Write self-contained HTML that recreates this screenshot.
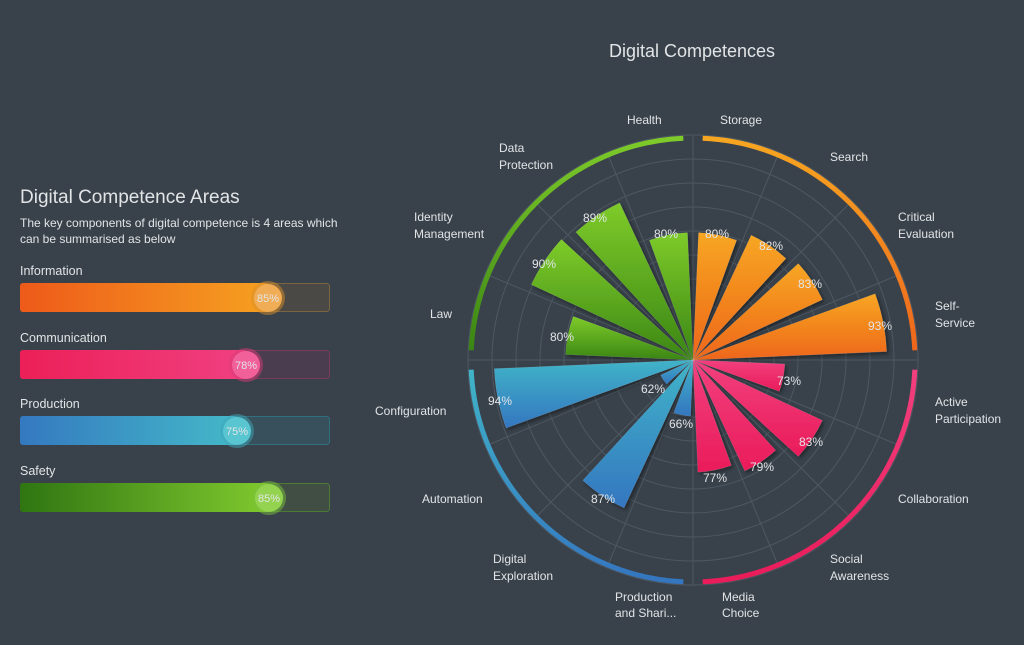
<!DOCTYPE html>
<html><head><meta charset="utf-8"><style>
html,body{margin:0;padding:0;background:#39424b;width:1024px;height:645px;overflow:hidden}
svg{display:block}
text{font-family:"Liberation Sans",sans-serif;fill:#e2e4e6}
</style></head><body>
<svg id="s" width="1024" height="645" viewBox="0 0 1024 645" xmlns="http://www.w3.org/2000/svg">
<defs>
<linearGradient id="go" x1="0" y1="0" x2="0" y2="1"><stop offset="0" stop-color="#f7a621"/><stop offset="1" stop-color="#ee661c"/></linearGradient>
<linearGradient id="gp" x1="0" y1="0" x2="0" y2="1"><stop offset="0" stop-color="#f2407f"/><stop offset="1" stop-color="#ea1c5a"/></linearGradient>
<linearGradient id="gb" x1="0" y1="0" x2="0" y2="1"><stop offset="0" stop-color="#40b4c8"/><stop offset="1" stop-color="#3476c0"/></linearGradient>
<linearGradient id="gg" x1="0" y1="0" x2="0" y2="1"><stop offset="0" stop-color="#7ecb2a"/><stop offset="1" stop-color="#3a8514"/></linearGradient>
<linearGradient id="ho" x1="0" x2="1"><stop offset="0" stop-color="#ee5a1a"/><stop offset="1" stop-color="#f5a020"/></linearGradient>
<linearGradient id="hp" x1="0" x2="1"><stop offset="0" stop-color="#ec1f58"/><stop offset="1" stop-color="#f04080"/></linearGradient>
<linearGradient id="hb" x1="0" x2="1"><stop offset="0" stop-color="#3479c0"/><stop offset="1" stop-color="#44b8c8"/></linearGradient>
<linearGradient id="hg" x1="0" x2="1"><stop offset="0" stop-color="#2f7512"/><stop offset="1" stop-color="#80c92e"/></linearGradient>
<filter id="sh" x="-20%" y="-20%" width="140%" height="140%"><feDropShadow dx="2" dy="2" stdDeviation="2" flood-color="#000" flood-opacity="0.45"/></filter>
</defs>
<g id="grid" stroke="#4e5862" stroke-width="1" fill="none"></g>
<g id="ring"></g>
<g id="bars" filter="url(#sh)"></g>

<text x="692" y="57" font-size="18" text-anchor="middle">Digital Competences</text>
<g font-size="12">
<text x="627" y="124">Health</text>
<text x="720" y="124">Storage</text>
<text x="830" y="161">Search</text>
<text x="898" y="221">Critical</text><text x="898" y="238">Evaluation</text>
<text x="935" y="310">Self-</text><text x="935" y="327">Service</text>
<text x="935" y="406">Active</text><text x="935" y="423">Participation</text>
<text x="898" y="503">Collaboration</text>
<text x="830" y="563">Social</text><text x="830" y="580">Awareness</text>
<text x="722" y="601">Media</text><text x="722" y="617">Choice</text>
<text x="615" y="601">Production</text><text x="615" y="617">and Shari...</text>
<text x="493" y="563">Digital</text><text x="493" y="580">Exploration</text>
<text x="422" y="503">Automation</text>
<text x="375" y="415">Configuration</text>
<text x="430" y="318">Law</text>
<text x="414" y="221">Identity</text><text x="414" y="238">Management</text>
<text x="499" y="152">Data</text><text x="499" y="169">Protection</text>
</g>
<g font-size="12" text-anchor="middle">
<text x="717" y="238">80%</text><text x="771" y="250">82%</text><text x="810" y="288">83%</text><text x="880" y="330">93%</text>
<text x="789" y="385">73%</text><text x="811" y="446">83%</text><text x="762" y="471">79%</text><text x="715" y="482">77%</text>
<text x="681" y="428">66%</text><text x="603" y="503">87%</text><text x="653" y="393">62%</text><text x="500" y="405">94%</text>
<text x="562" y="341">80%</text><text x="544" y="268">90%</text><text x="595" y="222">89%</text><text x="666" y="238">80%</text>
</g>

<text x="20" y="203" font-size="19">Digital Competence Areas</text>
<text x="20" y="227" font-size="12">The key components of digital competence is 4 areas which</text>
<text x="20" y="243" font-size="12">can be summarised as below</text>

<g font-size="12.5">
<text x="20" y="275">Information</text>
<text x="20" y="342">Communication</text>
<text x="20" y="408">Production</text>
<text x="20" y="475">Safety</text>
</g>
<g>
<rect x="20.5" y="283.5" width="309" height="28" rx="3" fill="#4a4945" stroke="#7b6540"/>
<rect x="20" y="283" width="248" height="29" rx="3" fill="url(#ho)"/>
<circle cx="268" cy="298" r="17" fill="#d98d2a" opacity="0.5"/>
<circle cx="268" cy="298" r="14" fill="#f0ad55"/>
<text x="268" y="302" font-size="11" text-anchor="middle">85%</text>

<rect x="20.5" y="350.5" width="309" height="28" rx="3" fill="#4a3d4f" stroke="#7a3a5a"/>
<rect x="20" y="350" width="226" height="29" rx="3" fill="url(#hp)"/>
<circle cx="246" cy="365" r="17" fill="#d93a78" opacity="0.5"/>
<circle cx="246" cy="365" r="14" fill="#f2609a"/>
<text x="246" y="369" font-size="11" text-anchor="middle">78%</text>

<rect x="20.5" y="416.5" width="309" height="28" rx="3" fill="#37505b" stroke="#2f6f80"/>
<rect x="20" y="416" width="217" height="29" rx="3" fill="url(#hb)"/>
<circle cx="237" cy="431" r="17" fill="#3fa6b8" opacity="0.5"/>
<circle cx="237" cy="431" r="14" fill="#58c5d0"/>
<text x="237" y="435" font-size="11" text-anchor="middle">75%</text>

<rect x="20.5" y="483.5" width="309" height="28" rx="3" fill="#404e44" stroke="#4d7a35"/>
<rect x="20" y="483" width="249" height="29" rx="3" fill="url(#hg)"/>
<circle cx="269" cy="498" r="17" fill="#7cc23a" opacity="0.5"/>
<circle cx="269" cy="498" r="14" fill="#93d350"/>
<text x="269" y="502" font-size="11" text-anchor="middle">85%</text>
</g>
</svg>
<script>
var NS="http://www.w3.org/2000/svg",cx=693,cy=360;
function pt(a,r){var t=(a-90)*Math.PI/180;return [cx+r*Math.cos(t),cy+r*Math.sin(t)];}
function el(n,at,p){var e=document.createElementNS(NS,n);for(var k in at)e.setAttribute(k,at[k]);p.appendChild(e);return e;}
var g=document.getElementById('grid');
for(var k=0;k<9;k++)el('circle',{cx:cx,cy:cy,r:225-24*k},g);
for(var i=0;i<16;i++){var p=pt(i*22.5,225);el('line',{x1:cx,y1:cy,x2:p[0],y2:p[1]},g);}
function arc(a0,a1,r){var p0=pt(a0,r),p1=pt(a1,r);return 'M'+p0[0]+' '+p0[1]+' A'+r+' '+r+' 0 0 1 '+p1[0]+' '+p1[1];}
var ring=document.getElementById('ring');
var cols=['url(#go)','url(#gp)','url(#gb)','url(#gg)'];
for(var q=0;q<4;q++)el('path',{d:arc(q*90+2.5,q*90+87.5,222),stroke:cols[q],'stroke-width':5,fill:'none'},ring);
var vals=[80,82,83,93,73,83,79,77,66,87,62,94,80,90,89,80];
var b=document.getElementById('bars');
for(var i=0;i<16;i++){var r=(vals[i]-55)*5.1,a0=i*22.5+2.5,a1=i*22.5+20;
var p0=pt(a0,r),p1=pt(a1,r);
el('path',{d:'M'+cx+' '+cy+' L'+p0[0]+' '+p0[1]+' A'+r+' '+r+' 0 0 1 '+p1[0]+' '+p1[1]+' Z',fill:cols[Math.floor(i/4)],stroke:'rgba(255,255,255,0.15)','stroke-width':0.5},b);}
</script>
</body></html>
